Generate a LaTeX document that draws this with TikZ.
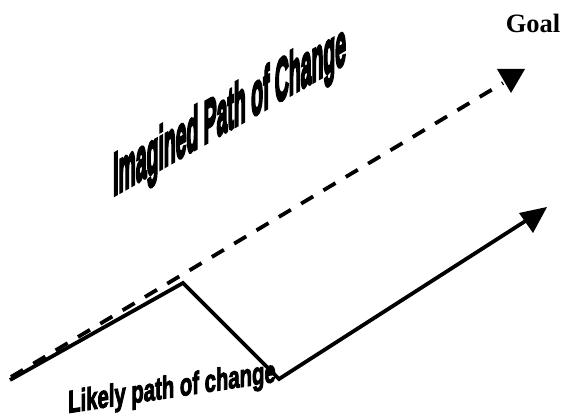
\documentclass[tikz,border=0pt]{standalone}
\usepackage{fontspec}
\setmainfont{Liberation Serif}
\newfontfamily\wordartA[BoldFeatures={FakeBold=6}]{Liberation Sans}
\newfontfamily\wordartB[BoldFeatures={FakeBold=3.5}]{Liberation Sans}
\begin{document}
\begin{tikzpicture}[x=1pt,y=-1pt,
  pathline/.style={line width=3.8pt,line join=miter},
  dashline/.style={line width=3.8pt,dash pattern=on 14pt off 12pt},
  headtri/.style={fill=black,draw=none}]
\useasboundingbox (0,0) rectangle (564,419);
% points
\coordinate (s0) at (10,380);
\coordinate (peak) at (183,283);
\coordinate (low) at (279,379);
\coordinate (solidend) at (527,220);
\coordinate (d0) at (11,377);
\coordinate (dashend) at (503,83);
% dashed imagined path
\draw[dashline] (d0) -- (dashend);
\fill[headtri] (497,69) -- (525,69) -- (511,93) -- cycle;
% solid likely path
\draw[pathline] (s0) -- (peak) -- (low) -- (solidend);
\fill[headtri] (519,213) -- (547,207) -- (533,233) -- cycle;
% labels
\node[font=\bfseries\fontsize{26.5}{30}\selectfont,anchor=base] (goal) at (533,33) {Goal};
\begin{scope}[shift={(113,196)}]
  \node[cm={1,0.57,0,3.1,(0,0)},transform shape,anchor=base west,inner sep=0pt,
        font=\wordartA\bfseries\fontsize{19.4}{20}\selectfont] (imag) at (0,0) {Imagined Path of Change};
\end{scope}
\begin{scope}[shift={(68,413)}]
  \node[cm={1,0.15,0,1.55,(0,0)},transform shape,anchor=base west,inner sep=0pt,
        font=\wordartB\bfseries\fontsize{20.3}{22}\selectfont] (likely) at (0,0) {Likely path of change};
\end{scope}
\end{tikzpicture}
\end{document}
